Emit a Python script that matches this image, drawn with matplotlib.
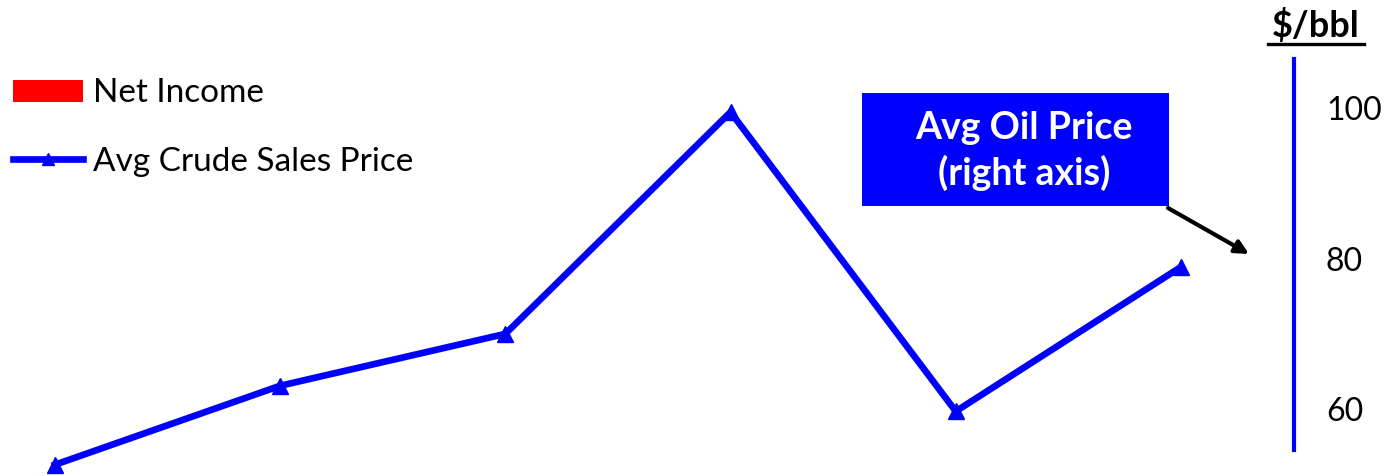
import matplotlib
matplotlib.use("Agg")
import matplotlib.pyplot as plt
from matplotlib.patches import Patch, Rectangle
from matplotlib.lines import Line2D

# ── Datos ───────────────────────────────────────────────
periods = [0, 1, 2, 3, 4, 5]
crude_price = [52.6, 63.1, 70.0, 99.5, 59.7, 78.9]   # $/bbl (eje derecho)
price_ticks = [60, 80, 100]

BLUE = "#0000ff"
FONT = "Lato"
W, H = 1392, 476

fig = plt.figure(figsize=(W / 100, H / 100), dpi=100)
ax = fig.add_axes([0, 0, 1294 / W, 1])

ax.plot(periods, crude_price, color=BLUE, linewidth=4.8, marker="^",
        markersize=11, solid_joinstyle="miter", clip_on=False)

ax.set_xlim(-0.244, 5.502)
ax.set_ylim(51.1, 114.4)

# Solo el eje derecho visible
for side in ("left", "top", "bottom"):
    ax.spines[side].set_visible(False)
ax.spines["right"].set_color(BLUE)
ax.spines["right"].set_linewidth(3)
ax.spines["right"].set_bounds(54.5, 106.6)
ax.set_xticks([])
ax.yaxis.tick_right()
ax.set_yticks(price_ticks)
ax.tick_params(axis="y", length=0, pad=23, labelsize=23)
for lbl in ax.get_yticklabels():
    lbl.set_fontfamily(FONT)

# Unidad del eje derecho (subrayada)
fig.text(1316 / W, 1 - 26 / H, "$/bbl", ha="center", va="center",
         fontsize=26, fontweight="bold", family=FONT)
fig.add_artist(Line2D([1268 / W, 1364 / W], [1 - 44 / H, 1 - 44 / H],
                      color="black", linewidth=2.4))

# Leyenda
handles = [
    Patch(facecolor="red", edgecolor="none", label="Net Income"),
    Line2D([], [], color=BLUE, linewidth=4.8, marker="^", markersize=9,
           label="Avg Crude Sales Price"),
]
ax.legend(handles=handles, loc="upper left", bbox_to_anchor=(0.0, 1 - 65 / H),
          frameon=False, prop={"family": FONT, "size": 24},
          handlelength=2.1, handleheight=0.65, handletextpad=0.3,
          labelspacing=1.15, borderaxespad=0.0)

# Cuadro "Avg Oil Price (right axis)"
fig.add_artist(Rectangle((862 / W, 1 - 206 / H), (1169 - 862) / W, (206 - 93) / H,
                         facecolor=BLUE, edgecolor="none",
                         transform=fig.transFigure))
fig.text(1024 / W, 1 - 151 / H, "Avg Oil Price\n(right axis)", ha="center",
         va="center", color="white", fontsize=27, fontweight="bold",
         family=FONT, linespacing=1.33)
ax.annotate("", xy=(1249, H - 254), xytext=(1168, H - 208),
            xycoords="figure pixels", textcoords="figure pixels",
            arrowprops=dict(arrowstyle="-|>,head_length=0.8,head_width=0.4",
                            color="black", linewidth=3, shrinkA=0, shrinkB=0))

fig.savefig("out.png", dpi=100)
